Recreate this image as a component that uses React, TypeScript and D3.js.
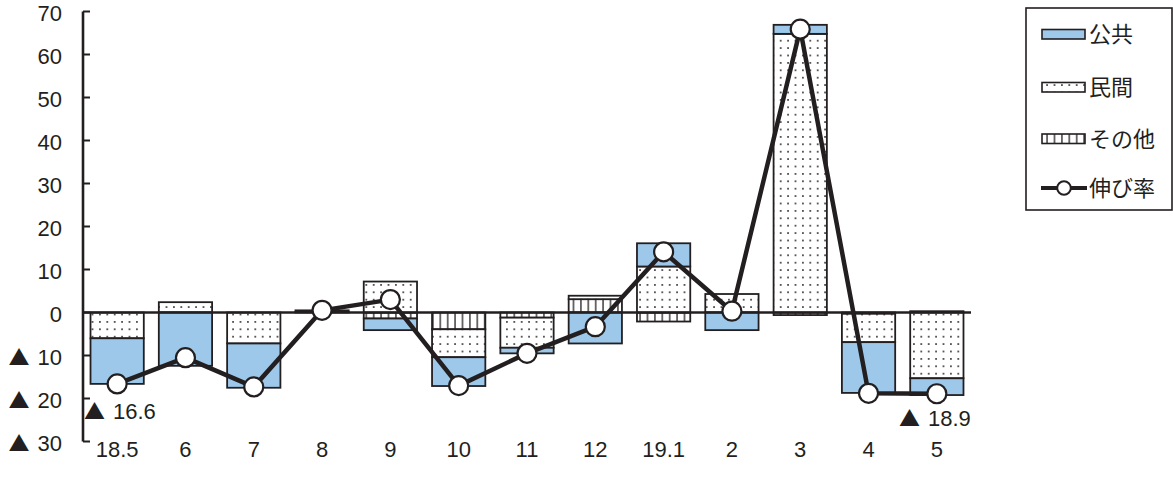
import React from "react";
import * as d3 from "d3";

const categories = ["18.5", "6", "7", "8", "9", "10", "11", "12", "19.1", "2", "3", "4", "5"];
const publicVals = [-10.6, -12.4, -10.3, 0, -2.7, -6.7, -1.3, -7.2, 5.4, -4.1, 2.1, -11.8, -3.9];
const privateVals = [-6.0, 2.4, -7.2, 0.4, 7.2, -6.5, -7.0, 0.8, 10.7, 4.3, 64.8, -6.6, -15.3];
const otherVals = [0, 0, 0, 0.1, -1.4, -3.9, -1.2, 3.1, -2.1, 0, -0.6, -0.3, 0.3];
const growthVals = [-16.6, -10.5, -17.3, 0.5, 3.0, -17.0, -9.5, -3.3, 14.1, 0.3, 65.9, -18.8, -18.9];
const yTicks = [-30, -20, -10, 0, 10, 20, 30, 40, 50, 60, 70];
const seriesNames = { public: "公共", private: "民間", other: "その他", growth: "伸び率" };
const annotations = [
  { index: 0, value: "16.6" },
  { index: 12, value: "18.9" },
];

const INK = "#231f20";
const BLUE = "#9dc8ea";
const NUMFONT = "'Liberation Sans', Arial, sans-serif";
const JPFONT = "'Noto Sans CJK JP', 'Noto Sans', sans-serif";

function Neg({ v }: { v: string }) {
  return (
    <>
      <tspan fontFamily={JPFONT} fontSize={21}>▲</tspan>
      <tspan dx={8}>{v}</tspan>
    </>
  );
}

export default function App() {
  const W = 1173, H = 486;
  const x = d3.scaleBand().domain(categories).range([83, 971]).paddingInner(0.22).paddingOuter(0.11);
  const y = d3.scaleLinear().domain([-30, 70]).range([441.5, 11.5]);

  const table = categories.map((c, i) => ({
    cat: c,
    other: otherVals[i],
    private: privateVals[i],
    public: publicVals[i],
  }));
  const keys = ["other", "private", "public"];
  const stacked = d3.stack<any>().keys(keys).offset(d3.stackOffsetDiverging)(table);
  const fills: Record<string, string> = { public: BLUE, private: "url(#dots)", other: "url(#vhatch)" };

  const line = d3
    .line<number>()
    .x((_, i) => (x(categories[i]) as number) + x.bandwidth() / 2)
    .y((d) => y(d));

  const cx = (i: number) => (x(categories[i]) as number) + x.bandwidth() / 2;

  return (
    <svg width={W} height={H} style={{ position: "absolute", left: 0, top: 0, background: "#fff" }} fontFamily={NUMFONT}>
      <defs>
        <pattern id="dots" patternUnits="userSpaceOnUse" width="7.4" height="7.4">
          <rect width="7.4" height="7.4" fill="#fff" />
          <circle cx="3.7" cy="3.7" r="0.95" fill={INK} />
        </pattern>
        <pattern id="vhatch" patternUnits="userSpaceOnUse" width="7.4" height="10">
          <rect width="7.4" height="10" fill="#fff" />
          <line x1="3.7" y1="0" x2="3.7" y2="10" stroke={INK} strokeWidth="1.3" />
        </pattern>
      </defs>

      {stacked.map((s) => (
        <g key={s.key}>
          {s.map((d, i) => {
            const y0 = y(d[0]);
            const y1 = y(d[1]);
            const top = Math.min(y0, y1);
            const h = Math.abs(y1 - y0);
            if (h < 0.01) return null;
            return (
              <rect
                key={i}
                x={x(categories[i])}
                y={top}
                width={x.bandwidth()}
                height={h}
                fill={fills[s.key]}
                stroke={INK}
                strokeWidth={1.8}
              />
            );
          })}
        </g>
      ))}

      {/* zero line */}
      <line x1={83} x2={971} y1={y(0)} y2={y(0)} stroke={INK} strokeWidth={2.6} />

      {/* y axis */}
      <line x1={83} x2={83} y1={y(70)} y2={y(-30)} stroke={INK} strokeWidth={2.6} />
      {yTicks.map((t) => (
        <g key={t}>
          <line x1={83} x2={90} y1={y(t)} y2={y(t)} stroke={INK} strokeWidth={2} />
          <text x={62} y={y(t) + 1.5} dy="0.36em" textAnchor="end" fontSize={22} fill={INK}>
            {t < 0 ? <Neg v={String(Math.abs(t))} /> : String(t)}
          </text>
        </g>
      ))}

      {/* x labels */}
      {categories.map((c) => (
        <text key={c} x={(x(c) as number) + x.bandwidth() / 2} y={449} dy="0.36em" textAnchor="middle" fontSize={22} fill={INK}>
          {c}
        </text>
      ))}

      {/* growth line */}
      <path d={line(growthVals) || ""} fill="none" stroke={INK} strokeWidth={4.5} strokeLinejoin="round" />
      {growthVals.map((g, i) => (
        <circle key={i} cx={cx(i)} cy={y(g)} r={9.5} fill="#fff" stroke={INK} strokeWidth={2.2} />
      ))}

      {/* annotations */}
      <text x={84} y={411.5} dy="0.36em" fontSize={22} fill={INK}>
        <Neg v={annotations[0].value} />
      </text>
      <text x={899} y={418} dy="0.36em" fontSize={22} fill={INK}>
        <Neg v={annotations[1].value} />
      </text>

      {/* legend */}
      <g fontFamily={JPFONT}>
        <rect x={1026} y={8} width={146} height={202} fill="#fff" stroke={INK} strokeWidth={1.6} />
        <rect x={1042} y={29.5} width={43} height={9.5} fill={BLUE} stroke={INK} strokeWidth={1.6} />
        <text x={1089} y={34.5} dy="0.36em" fontSize={22} fill={INK}>{seriesNames.public}</text>
        <rect x={1042} y={82.5} width={43} height={9.5} fill="url(#dots)" stroke={INK} strokeWidth={1.6} />
        <text x={1089} y={87.5} dy="0.36em" fontSize={22} fill={INK}>{seriesNames.private}</text>
        <rect x={1042} y={134} width={43} height={9.5} fill="url(#vhatch)" stroke={INK} strokeWidth={1.6} />
        <text x={1089} y={139} dy="0.36em" fontSize={22} fill={INK}>{seriesNames.other}</text>
        <line x1={1041} x2={1087} y1={188} y2={188} stroke={INK} strokeWidth={4} />
        <circle cx={1064} cy={188} r={6.8} fill="#fff" stroke={INK} strokeWidth={2} />
        <text x={1089} y={188.5} dy="0.36em" fontSize={22} fill={INK}>{seriesNames.growth}</text>
      </g>
    </svg>
  );
}
